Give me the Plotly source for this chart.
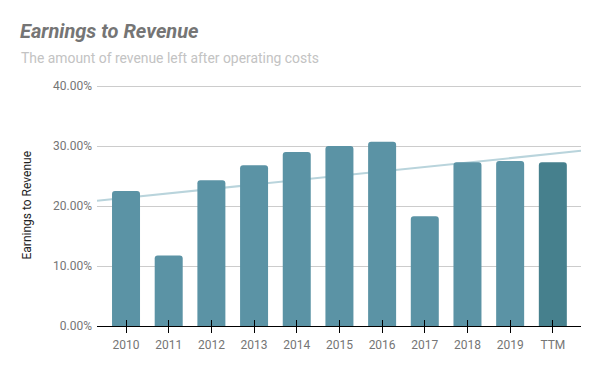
import numpy as np
import plotly.graph_objects as go

categories = ["2010", "2011", "2012", "2013", "2014", "2015", "2016", "2017", "2018", "2019", "TTM"]
earnings_to_revenue = [0.225, 0.1175, 0.243, 0.268, 0.290, 0.300, 0.307, 0.183, 0.273, 0.275, 0.273]
y_tick_vals = [0.0, 0.1, 0.2, 0.3, 0.4]
y_tick_text = ["0.00%", "10.00%", "20.00%", "30.00%", "40.00%"]

idx = np.arange(len(categories))
x_range = [-0.68, 10.66]

bar_colors = ["#5b93a5"] * (len(categories) - 1) + ["#46808d"]

slope, intercept = np.polyfit(idx, earnings_to_revenue, 1)
trend_x = np.array(x_range)
trend_y = slope * trend_x + intercept

FONT = "Roboto"
fig = go.Figure()

fig.add_trace(go.Scatter(
    x=trend_x, y=trend_y, mode="lines",
    line=dict(color="#b9d4dc", width=2),
    xaxis="x", yaxis="y", showlegend=False, hoverinfo="skip",
))

fig.add_trace(go.Bar(
    x=idx, y=earnings_to_revenue, marker=dict(color=bar_colors, line=dict(width=0)),
    xaxis="x2", yaxis="y", showlegend=False,
))

fig.update_layout(
    width=600, height=371,
    margin=dict(l=97, r=19, t=85, b=45),
    paper_bgcolor="white", plot_bgcolor="white",
    font=dict(family=FONT, size=12, color="#757575"),
    bargap=0.344,
    barcornerradius=3,
    xaxis=dict(
        range=x_range, tickmode="array", tickvals=idx, ticktext=categories,
        ticks="outside", ticklen=6, tickcolor="black", tickwidth=1,
        showline=True, linecolor="black", linewidth=1,
        showgrid=False, zeroline=False, ticklabelstandoff=2,
        tickfont=dict(family=FONT, size=12, color="#757575"),
    ),
    xaxis2=dict(
        range=x_range, overlaying="x", anchor="y", tickmode="array", tickvals=idx,
        ticks="inside", ticklen=6, tickcolor="black", tickwidth=1,
        showticklabels=False, showline=False, showgrid=False, zeroline=False,
    ),
    yaxis=dict(
        range=[0, 0.4017], tickmode="array", tickvals=y_tick_vals, ticktext=y_tick_text,
        showgrid=True, gridcolor="#cccccc", gridwidth=1, zeroline=False,
        ticks="", showline=False, ticklabelstandoff=4,
        tickfont=dict(family=FONT, size=12, color="#757575"),
    ),
    annotations=[
        dict(text="<b><i>Earnings to Revenue</i></b>", xref="paper", yref="paper",
             x=(18 - 97) / 484, y=(326 - 31) / 241, xanchor="left", yanchor="middle",
             showarrow=False, font=dict(family=FONT, size=20, color="#757575")),
        dict(text="The amount of revenue left after operating costs", xref="paper", yref="paper",
             x=(19 - 97) / 484, y=(326 - 58) / 241, xanchor="left", yanchor="middle",
             showarrow=False, font=dict(family=FONT, size=13.9, color="#c3c3c3")),
        dict(text="Earnings to Revenue", xref="paper", yref="paper",
             x=(26 - 97) / 484, y=0.5, xanchor="center", yanchor="middle", textangle=-90,
             showarrow=False, font=dict(family=FONT, size=12, color="#222222")),
    ],
)

fig.write_html("out.html", config={"displayModeBar": False},
               post_script="document.body.style.margin='0';")
